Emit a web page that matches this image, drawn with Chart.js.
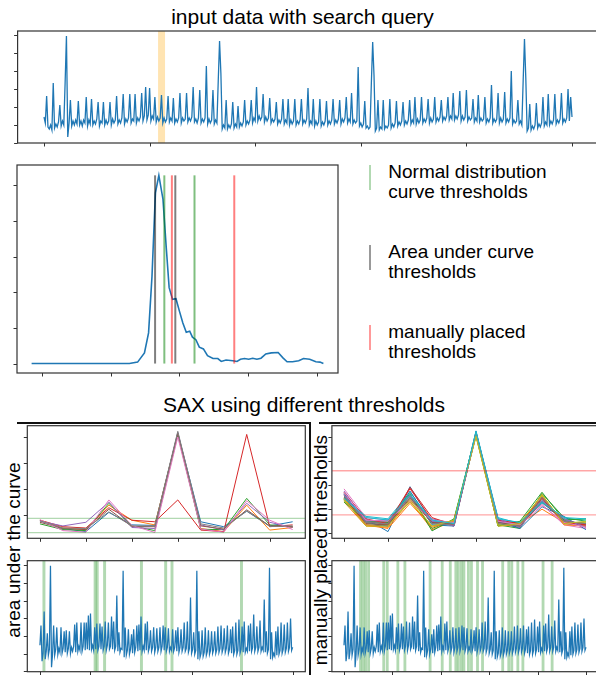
<!DOCTYPE html>
<html>
<head>
<meta charset="utf-8">
<script src="https://cdn.jsdelivr.net/npm/chart.js@4.4.1/dist/chart.umd.min.js"></script>
<style>
  html, body { margin: 0; padding: 0; width: 596px; height: 675px; overflow: hidden; background: #fff; }
  body { position: relative; font-family: "Liberation Sans", Arial, Helvetica, sans-serif; color: #000; }
  canvas { position: absolute; }
  .txt { position: absolute; white-space: nowrap; }
  .title { font-size: 21px; line-height: 21px; transform: translateX(-50%); }
  .side { font-size: 19px; line-height: 19px; transform: translate(-50%, -50%) rotate(-90deg); }
  .legend { font-size: 19px; line-height: 20px; }
  .handle { position: absolute; width: 2px; height: 25px; }
  .rule { position: absolute; background: #111; }
</style>
</head>
<body>
<div class="txt title" style="left:302.5px;top:6px">input data with search query</div>
<div class="txt title" style="left:304px;top:394px">SAX using different thresholds</div>
<div class="txt side" style="left:13.4px;top:550px">area under the curve</div>
<div class="txt side" style="left:320px;top:550px">manually placed thresholds</div>
<div class="rule" style="left:17px;top:422px;width:294px;height:2px"></div>
<div class="rule" style="left:309px;top:422px;width:2px;height:253px"></div>
<div class="rule" style="left:319px;top:422px;width:277px;height:2px"></div>
<div id="legend"></div>

<script>
const TAB10 = ['#1f77b4', '#ff7f0e', '#2ca02c', '#d62728', '#9467bd',
  '#8c564b', '#e377c2', '#7f7f7f', '#bcbd22', '#17becf'];

// full recording, one value per sample
const inputSignal = [
  26, 20, 47, 16, 14, 18, 13, 60, 15, 19, 16, 21, 38, 17, 22, 18, 60, 107, 6, 20,
  43, 17, 22, 18, 23, 19, 42, 18, 22, 17, 23, 20, 46, 17, 23, 19, 44, 18, 22, 19,
  24, 41, 17, 22, 20, 41, 18, 23, 19, 22, 41, 18, 24, 20, 23, 47, 19, 23, 20, 25,
  49, 19, 24, 21, 25, 49, 20, 24, 22, 49, 20, 25, 22, 26, 50, 22, 27, 56, 23, 28,
  55, 22, 27, 24, 46, 21, 26, 22, 25, 48, 20, 25, 21, 24, 47, 21, 25, 22, 45, 20,
  24, 21, 25, 50, 20, 25, 22, 24, 50, 21, 25, 22, 26, 56, 21, 24, 20, 25, 53, 20,
  24, 21, 25, 77, 19, 24, 20, 23, 53, 19, 23, 20, 62, 102, 70, 14, 18, 15, 43, 14,
  18, 15, 19, 41, 15, 19, 16, 37, 16, 20, 17, 21, 43, 18, 22, 19, 23, 43, 20, 25,
  22, 56, 22, 27, 23, 26, 49, 21, 26, 22, 25, 45, 20, 24, 21, 24, 41, 19, 23, 20,
  24, 44, 19, 23, 20, 44, 18, 23, 19, 22, 44, 18, 22, 19, 23, 44, 19, 23, 20, 24,
  55, 18, 22, 19, 44, 17, 22, 18, 21, 44, 17, 21, 18, 22, 42, 18, 22, 19, 23, 44,
  19, 23, 20, 24, 43, 19, 24, 21, 25, 46, 20, 24, 21, 50, 19, 23, 20, 22, 76, 17,
  20, 16, 19, 42, 15, 17, 14, 16, 60, 101, 68, 12, 15, 43, 13, 16, 14, 43, 14, 17,
  15, 18, 44, 15, 19, 16, 20, 42, 17, 21, 18, 22, 41, 18, 22, 19, 23, 43, 19, 23,
  20, 46, 19, 24, 20, 23, 46, 20, 24, 21, 25, 44, 20, 25, 21, 24, 46, 21, 25, 22,
  26, 43, 22, 26, 23, 27, 46, 23, 27, 24, 50, 23, 27, 24, 28, 52, 22, 27, 23, 26,
  53, 22, 26, 23, 25, 44, 21, 25, 22, 48, 21, 25, 22, 24, 46, 20, 24, 21, 25, 58,
  20, 24, 21, 24, 50, 20, 25, 21, 24, 51, 20, 24, 21, 25, 72, 19, 23, 20, 22, 43,
  19, 22, 18, 62, 104, 65, 12, 15, 39, 13, 17, 14, 18, 40, 15, 19, 16, 20, 46, 17,
  21, 18, 49, 18, 22, 19, 23, 49, 19, 23, 20, 24, 50, 20, 24, 21, 25, 54, 22, 46,
  26,
];
const querySpan = [86.4, 91.7];
const inputTicksX = [0, 80, 160, 240, 320, 400];
const inputTicksY = [0, 18, 36, 54, 72, 90, 108];

// value distribution of the recording and the thresholds derived from it
const densityX = [-0.156, 1.27, 1.39, 1.49, 1.55, 1.60, 1.65, 1.70, 1.76, 1.81, 1.85, 1.90,
  1.95, 2.00, 2.05, 2.10, 2.15, 2.19, 2.24, 2.29, 2.35, 2.41, 2.49, 2.56, 2.61, 2.68, 2.78,
  2.84, 2.89, 2.95, 3.01, 3.07, 3.13, 3.19, 3.26, 3.34, 3.44, 3.51, 3.57, 3.65, 3.74, 3.81,
  3.90, 3.99, 4.05, 4.10];
const densityY = [0, 0, 0.04, 0.30, 0.86, 2.45, 4.79, 5.28, 4.61, 3.20, 2.13, 1.80,
  1.82, 1.47, 1.14, 0.88, 0.91, 0.74, 0.67, 0.46, 0.41, 0.22, 0.14, 0.14, 0.06, 0.10, 0.08,
  0.06, 0.12, 0.14, 0.12, 0.15, 0.12, 0.15, 0.27, 0.30, 0.31, 0.16, 0.05, 0.05, 0.08, 0.14,
  0.12, 0.05, 0.04, 0];
const normalThresholds = [1.78, 2.22];
const areaThresholds = [1.645, 1.94];
const manualThresholds = [1.89, 2.80];
const densityTicksX = [0, 1, 2, 3, 4];
const densityTicksY = [0, 1, 2, 3, 4, 5];

// SAX words of the matched windows
const saxTicksX = [0, 2, 4, 6, 8, 10];
const areaSax = [
  [0.78, 0.48, 0.36, 1.10, 0.62, 0.60, 4.15, 0.74, 0.55, 1.15, 0.58, 0.74],
  [0.80, 0.50, 0.44, 1.38, 0.80, 0.62, 4.12, 0.48, 0.36, 1.38, 0.42, 0.52],
  [0.66, 0.44, 0.40, 1.45, 0.58, 0.40, 4.10, 0.45, 0.44, 1.64, 0.62, 0.55],
  [0.80, 0.55, 0.50, 1.28, 0.80, 0.74, 1.58, 0.42, 0.36, 4.10, 0.55, 0.62],
  [0.76, 0.58, 0.72, 1.50, 0.52, 0.48, 4.18, 0.62, 0.42, 1.45, 0.72, 0.52],
  [0.72, 0.48, 0.44, 1.22, 0.56, 0.55, 4.14, 0.58, 0.46, 1.20, 0.58, 0.55],
  [0.82, 0.40, 0.34, 1.58, 0.60, 0.33, 4.00, 0.46, 0.34, 1.55, 0.80, 0.44],
  [0.78, 0.50, 0.48, 1.12, 0.58, 0.58, 4.22, 0.66, 0.50, 1.15, 0.56, 0.58],
];
const areaSaxLevels = [0.32, 0.87];
const areaSaxTicksY = [1, 2, 3, 4];

const manualSax = [
  [2.50, 1.60, 1.07, 2.93, 1.45, 1.35, 5.24, 1.55, 1.30, 2.35, 1.60, 1.25],
  [2.30, 1.30, 1.25, 2.35, 1.15, 1.50, 5.05, 1.45, 1.40, 2.00, 1.45, 1.35],
  [2.45, 1.45, 1.50, 2.55, 1.20, 1.55, 5.10, 1.35, 1.20, 2.65, 1.65, 1.50],
  [2.60, 1.50, 1.35, 2.85, 1.55, 1.30, 5.15, 1.50, 1.35, 2.50, 1.50, 1.40],
  [2.75, 1.55, 1.45, 2.45, 1.60, 1.40, 5.12, 1.60, 1.30, 2.30, 1.55, 1.30],
  [2.40, 1.35, 1.30, 2.60, 1.40, 1.35, 5.08, 1.40, 1.25, 2.45, 1.40, 1.30],
  [2.84, 1.65, 1.55, 2.40, 1.50, 1.45, 5.10, 1.55, 1.45, 2.20, 1.35, 1.20],
  [2.55, 1.50, 1.40, 2.50, 1.45, 1.40, 5.15, 1.45, 1.30, 2.40, 1.50, 1.35],
  [2.35, 1.40, 1.35, 2.30, 1.30, 1.50, 5.00, 1.35, 1.45, 2.55, 1.45, 1.45],
  [2.50, 1.70, 1.60, 2.70, 1.50, 1.45, 5.20, 1.65, 1.40, 2.25, 1.60, 1.55],
  [2.65, 1.45, 1.30, 2.75, 1.35, 1.30, 5.18, 1.50, 1.20, 2.10, 1.70, 1.15],
  [2.45, 1.35, 1.20, 2.24, 1.25, 1.50, 5.06, 1.30, 1.35, 2.60, 1.35, 1.30],
  [2.30, 1.50, 1.45, 2.65, 1.10, 1.60, 5.12, 1.30, 1.50, 2.70, 1.55, 1.60],
  [2.70, 1.60, 1.40, 2.90, 1.65, 1.35, 5.16, 1.55, 1.40, 2.45, 1.45, 1.35],
  [2.60, 1.50, 1.55, 2.55, 1.50, 1.30, 5.10, 1.60, 1.25, 2.35, 1.60, 1.25],
  [2.50, 1.40, 1.35, 2.45, 1.45, 1.40, 5.10, 1.45, 1.30, 2.30, 1.50, 1.40],
  [2.70, 1.55, 1.50, 2.35, 1.55, 1.45, 5.08, 1.50, 1.35, 2.15, 1.45, 1.25],
  [2.55, 1.45, 1.40, 2.60, 1.40, 1.35, 5.14, 1.40, 1.30, 2.50, 1.50, 1.40],
  [2.40, 1.30, 1.30, 2.40, 1.30, 1.55, 5.02, 1.30, 1.40, 2.60, 1.40, 1.50],
  [2.45, 1.65, 1.55, 2.60, 1.55, 1.40, 5.22, 1.60, 1.45, 2.30, 1.65, 1.60],
];
const manualSaxLevels = [1.76, 3.59];
const manualSaxTicksY = [1, 2, 3, 4, 5];

// searched recording with the windows each method matched
const searchSignal = [
  26, 46, 10, 18, 60, 12, 20, 38, 16, 22, 106, 4, 17, 46, 16, 22, 44, 17, 23, 19,
  44, 18, 23, 40, 19, 41, 18, 23, 40, 18, 24, 20, 25, 47, 19, 49, 20, 25, 21, 49,
  20, 25, 49, 21, 49, 22, 56, 21, 58, 22, 26, 21, 44, 22, 48, 21, 25, 48, 22, 45,
  21, 25, 50, 21, 26, 49, 22, 25, 55, 22, 50, 21, 25, 76, 20, 39, 19, 23, 22, 101,
  14, 44, 16, 21, 42, 17, 22, 37, 18, 42, 19, 24, 46, 20, 47, 21, 55, 20, 25, 21,
  48, 21, 50, 20, 24, 41, 20, 24, 44, 19, 24, 43, 20, 24, 44, 20, 25, 46, 21, 44,
  20, 24, 43, 20, 24, 21, 42, 20, 24, 41, 20, 44, 19, 24, 42, 20, 24, 49, 20, 23,
  50, 19, 23, 74, 18, 22, 39, 17, 21, 101, 12, 40, 14, 18, 41, 15, 19, 44, 16, 20,
  41, 17, 21, 40, 18, 22, 40, 18, 22, 45, 19, 23, 46, 19, 23, 43, 19, 23, 46, 18,
  22, 42, 18, 45, 17, 21, 49, 17, 21, 52, 18, 22, 45, 19, 50, 19, 23, 20, 46, 20,
  48, 20, 24, 57, 20, 24, 45, 20, 24, 51, 20, 24, 21, 72, 19, 40, 18, 22, 104, 12,
  39, 14, 18, 15, 40, 16, 45, 17, 21, 49, 18, 22, 47, 19, 23, 49, 20, 24, 53, 21,
  24,
];
const searchTicksX = [0, 48, 96, 144, 192, 240];
const searchTicksY = [0, 17.7, 35.4, 53.1, 70.8, 88.5, 106.2];
const matchLength = 2.8;
const areaMatches = [2.4, 51, 53, 60, 95, 118, 124, 190];
const manualMatches = [15, 17.5, 20, 23, 38, 41.5, 52, 59, 84, 96, 104, 109.5, 112, 115,
  117.5, 122, 125, 131, 136, 156, 162, 165, 171, 176, 196, 205];

const COLORS = {
  signal: '#1f77b4',
  query: 'rgba(255, 165, 0, 0.3)',
  match: 'rgba(0, 128, 0, 0.3)',
  normal: 'rgba(0, 128, 0, 0.5)',
  area: 'rgba(0, 0, 0, 0.5)',
  manual: 'rgba(255, 0, 0, 0.5)',
  areaLevel: 'rgba(0, 128, 0, 0.3)',
  manualLevel: 'rgba(255, 0, 0, 0.35)',
};

// axes boxes in page pixels
const FRAMES = {
  input: { left: 17.6, top: 31, right: 598.4, bottom: 143 },
  density: { left: 17, top: 165, right: 338, bottom: 373 },
  saxArea: { left: 27.3, top: 425.7, right: 305.3, bottom: 538.3 },
  saxManual: { left: 331.9, top: 425.7, right: 598.1, bottom: 538.3 },
  searchArea: { left: 27.3, top: 560.7, right: 305.3, bottom: 671.7 },
  searchManual: { left: 331.9, top: 560.7, right: 598.1, bottom: 671.7 },
};

// frame, outward tick marks and shaded windows, all placed through the chart scales
const axesBox = {
  id: 'axesBox',
  beforeDatasetsDraw(chart, args, opts) {
    if (!opts.spans) return;
    const { ctx, chartArea: a, scales: { x } } = chart;
    ctx.save();
    ctx.beginPath();
    ctx.rect(a.left, a.top, a.right - a.left, a.bottom - a.top);
    ctx.clip();
    ctx.fillStyle = opts.spanColor;
    opts.spans.forEach(([start, end]) => {
      const x0 = x.getPixelForValue(start);
      const x1 = x.getPixelForValue(end);
      ctx.fillRect(x0, a.top, x1 - x0, a.bottom - a.top);
    });
    ctx.restore();
  },
  afterDraw(chart, args, opts) {
    const { ctx, chartArea: a, scales: { x, y } } = chart;
    ctx.save();
    ctx.strokeStyle = '#333';
    ctx.lineWidth = 1.2;
    ctx.strokeRect(a.left, a.top, a.right - a.left, a.bottom - a.top);
    ctx.lineWidth = 1;
    ctx.beginPath();
    (opts.xTicks || []).forEach((v) => {
      const px = Math.round(x.getPixelForValue(v)) + 0.5;
      ctx.moveTo(px, a.bottom);
      ctx.lineTo(px, a.bottom + 3.5);
    });
    (opts.yTicks || []).forEach((v) => {
      const py = Math.round(y.getPixelForValue(v)) + 0.5;
      ctx.moveTo(a.left - 3.5, py);
      ctx.lineTo(a.left, py);
    });
    ctx.stroke();
    ctx.restore();
  },
};
Chart.register(axesBox);

const points = (values) => values.map((y, x) => ({ x, y }));

function lineSet(data, color, width, order) {
  return {
    data,
    borderColor: color,
    borderWidth: width,
    pointRadius: 0,
    tension: 0,
    fill: false,
    order,
  };
}

function makePanel(frame, xRange, yRange, datasets, box) {
  const canvas = document.createElement('canvas');
  const left = Math.floor(frame.left - 8);
  const top = Math.floor(frame.top - 2);
  const width = Math.ceil(frame.right + 2) - left;
  const height = Math.ceil(frame.bottom + 8) - top;
  canvas.width = width;
  canvas.height = height;
  Object.assign(canvas.style, {
    left: `${left}px`, top: `${top}px`, width: `${width}px`, height: `${height}px`,
  });
  document.body.appendChild(canvas);
  return new Chart(canvas, {
    type: 'line',
    data: { datasets },
    options: {
      responsive: false,
      animation: false,
      events: [],
      devicePixelRatio: 1,
      layout: {
        padding: {
          left: frame.left - left,
          top: frame.top - top,
          right: left + width - frame.right,
          bottom: top + height - frame.bottom,
        },
      },
      scales: {
        x: { type: 'linear', display: false, min: xRange[0], max: xRange[1] },
        y: { type: 'linear', display: false, min: yRange[0], max: yRange[1] },
      },
      plugins: {
        legend: { display: false },
        tooltip: { enabled: false },
        axesBox: box,
      },
    },
  });
}

// top: the recording with the query window
makePanel(FRAMES.input, [-20, 420], [0, 112],
  [lineSet(points(inputSignal), COLORS.signal, 1.3, 0)],
  { xTicks: inputTicksX, yTicks: inputTicksY, spans: [querySpan], spanColor: COLORS.query });

// middle: distribution with the three threshold sets
const densityTop = Math.max(...densityY);
const thresholdSets = [
  ...normalThresholds.map((t) => [t, COLORS.normal]),
  ...areaThresholds.map((t) => [t, COLORS.area]),
  ...manualThresholds.map((t) => [t, COLORS.manual]),
].map(([t, color]) => lineSet([{ x: t, y: 0 }, { x: t, y: densityTop }], color, 2, -1));
makePanel(FRAMES.density, [-0.369, 4.313], [-0.265, 5.57],
  [lineSet(densityX.map((x, i) => ({ x, y: densityY[i] })), COLORS.signal, 1.6, 0), ...thresholdSets],
  { xTicks: densityTicksX, yTicks: densityTicksY });

// SAX words, later words drawn above earlier ones
function saxPanel(frame, words, levels, levelColor, yRange, yTicks) {
  const xRange = [-0.55, 11.55];
  const sets = words.map((w, i) => lineSet(points(w), TAB10[i % 10], 1, -i));
  levels.forEach((lvl) => {
    sets.push(lineSet([{ x: xRange[0], y: lvl }, { x: xRange[1], y: lvl }], levelColor, 1.3, -100));
  });
  makePanel(frame, xRange, yRange, sets, { xTicks: saxTicksX, yTicks });
}
saxPanel(FRAMES.saxArea, areaSax, areaSaxLevels, COLORS.areaLevel, [0.104, 4.435], areaSaxTicksY);
saxPanel(FRAMES.saxManual, manualSax, manualSaxLevels, COLORS.manualLevel, [0.793, 5.455], manualSaxTicksY);

// bottom: matched windows in the searched recording
function searchPanel(frame, matches) {
  makePanel(frame, [-12, 252], [-0.5, 111],
    [lineSet(points(searchSignal), COLORS.signal, 1.25, 0)],
    {
      xTicks: searchTicksX,
      yTicks: searchTicksY,
      spans: matches.map((s) => [s, s + matchLength]),
      spanColor: COLORS.match,
    });
}
searchPanel(FRAMES.searchArea, areaMatches);
searchPanel(FRAMES.searchManual, manualMatches);

// legend for the threshold colours
const legendItems = [
  { color: 'rgba(0, 128, 0, 0.3)', text: 'Normal distribution<br>curve thresholds', top: 165 },
  { color: 'rgba(0, 0, 0, 0.4)', text: 'Area under curve<br>thresholds', top: 245 },
  { color: 'rgba(255, 0, 0, 0.4)', text: 'manually placed<br>thresholds', top: 325 },
];
const legend = document.getElementById('legend');
legendItems.forEach((item) => {
  legend.insertAdjacentHTML('beforeend',
    `<div class="handle" style="left:368.5px;top:${item.top}px;background:${item.color}"></div>` +
    `<div class="txt legend" style="left:388.3px;top:${item.top - 2.6}px">${item.text}</div>`);
});
</script>
</body>
</html>
